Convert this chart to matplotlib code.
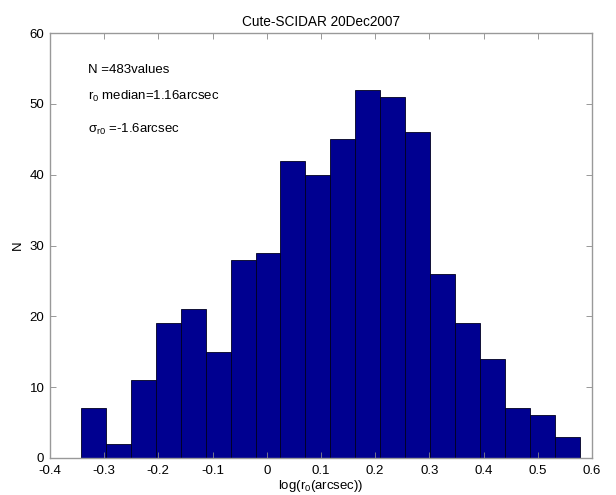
import numpy as np
import matplotlib.pyplot as plt

plt.rcParams['font.family'] = ['Liberation Sans', 'DejaVu Sans']
plt.rcParams['mathtext.fontset'] = 'custom'
plt.rcParams['mathtext.rm'] = 'Liberation Sans'

# histogram of log(r0), 20 bins
bin_lo = -0.343
bin_hi = 0.578
counts = [7, 2, 11, 19, 21, 15, 28, 29, 42, 40, 45, 52, 51, 46, 26, 19, 14, 7, 6, 3]
xticks = [-0.4, -0.3, -0.2, -0.1, 0, 0.1, 0.2, 0.3, 0.4, 0.5, 0.6]
xticklabels = ['-0.4', '-0.3', '-0.2', '-0.1', '0', '0.1', '0.2', '0.3', '0.4', '0.5', '0.6']
yticks = [0, 10, 20, 30, 40, 50, 60]

edges = np.linspace(bin_lo, bin_hi, len(counts) + 1)

fig = plt.figure(figsize=(6.16, 4.95), dpi=100)
ax = fig.add_axes([0.081, 0.075, 0.880, 0.858])

ax.bar(edges[:-1], counts, width=np.diff(edges), align='edge',
       color='#000090', edgecolor='#000020', linewidth=0.6)

ax.set_xlim(-0.4, 0.6)
ax.set_ylim(0, 60)
ax.set_xticks(xticks)
ax.set_xticklabels(xticklabels)
ax.set_yticks(yticks)
ax.tick_params(direction='in', length=4, width=0.6, color='#888888',
               labelsize=9.5, top=True, right=True, labeltop=False, labelright=False)
ax.tick_params(axis='x', pad=5)
ax.tick_params(axis='y', pad=4)
for s in ax.spines.values():
    s.set_color('#999999')
    s.set_linewidth(1.0)

ax.set_xlabel(r'log(r$_\mathregular{0}$(arcsec))', fontsize=9.5, labelpad=1)
ax.set_ylabel('N', fontsize=9.5, labelpad=4)
ax.set_title('Cute-SCIDAR 20Dec2007', fontsize=9.8, pad=5)

ax.text(-0.33, 54.8, 'N =483values', fontsize=9.5, va='center')
ax.text(-0.33, 51.0, r'r$_\mathregular{0}$ median=1.16arcsec', fontsize=9.5, va='center')
ax.text(-0.33, 46.4, r'$\mathregular{\sigma_{r0}}$ =-1.6arcsec', fontsize=9.5, va='center')

fig.savefig('out.png', dpi=100)
